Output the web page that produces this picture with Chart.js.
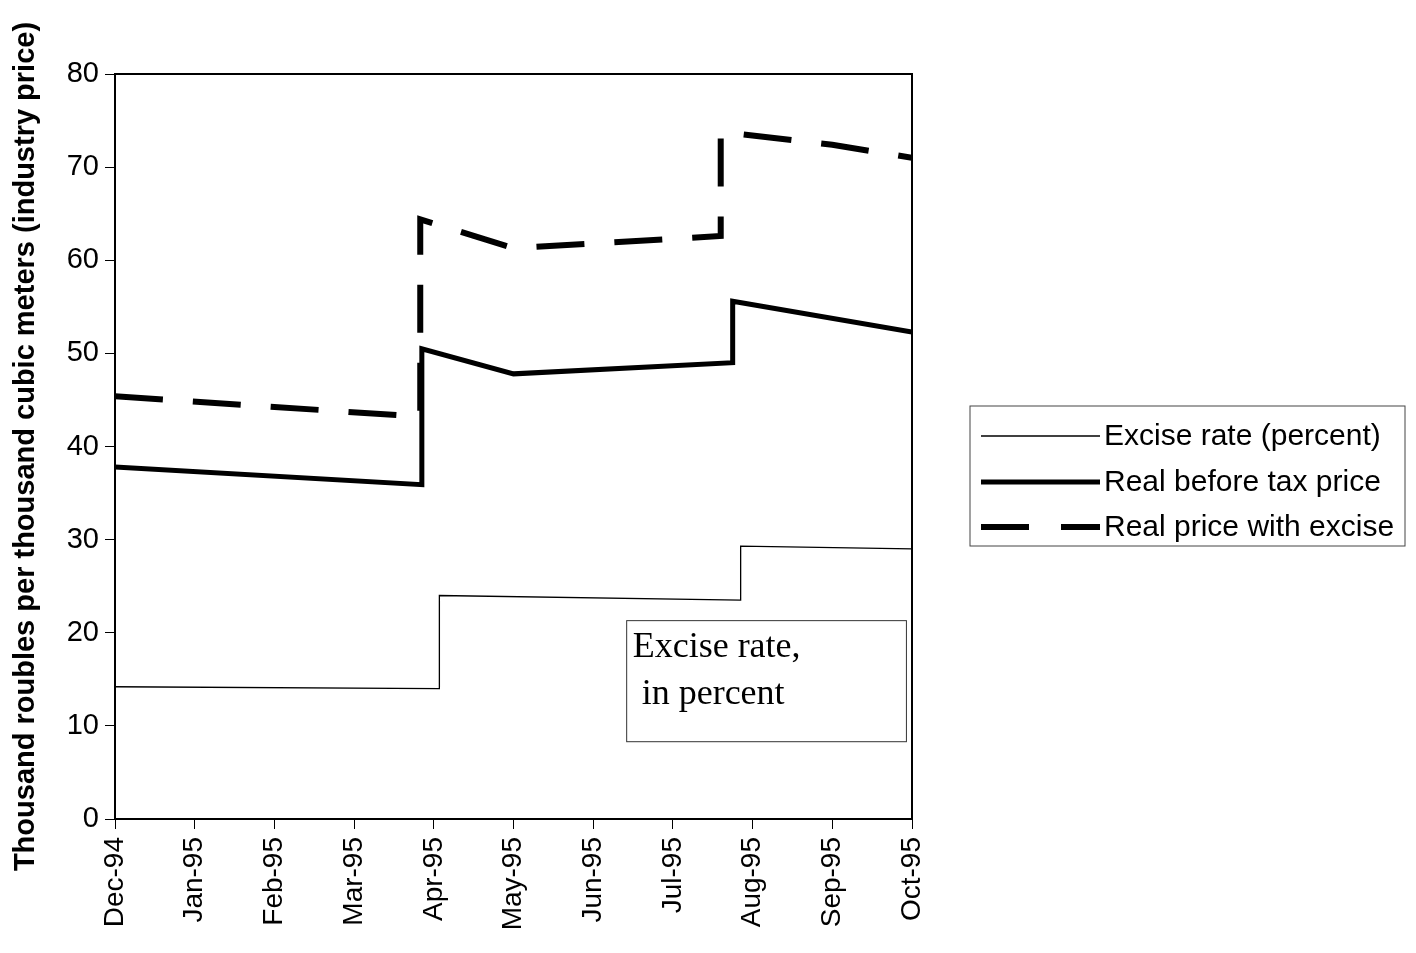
<!DOCTYPE html>
<html>
<head>
<meta charset="utf-8">
<script src="https://cdn.jsdelivr.net/npm/chart.js@4.4.1/dist/chart.umd.min.js"></script>
<style>
  html, body { margin: 0; padding: 0; background: #fff; }
  #wrap { width: 1416px; height: 953px; }
</style>
</head>
<body>
<div id="wrap"><canvas id="gasChart"></canvas></div>

<script>
    // month labels for the x axis (index 0 = Dec-94)
    var months = ['Dec-94', 'Jan-95', 'Feb-95', 'Mar-95', 'Apr-95', 'May-95',
                  'Jun-95', 'Jul-95', 'Aug-95', 'Sep-95', 'Oct-95'];
    var yTicks = [0, 10, 20, 30, 40, 50, 60, 70, 80];

    // x values are month positions (steps fall between months)
    var exciseX = [0, 4.07, 4.07, 7.85, 7.85, 10];
    var exciseY = [14.2, 14.0, 24.0, 23.5, 29.3, 29.0];

    var beforeTaxX = [0, 3.85, 3.85, 5, 7.75, 7.75, 10];
    var beforeTaxY = [37.8, 35.9, 50.5, 47.8, 49.0, 55.6, 52.3];

    var withExciseX = [0, 3.83, 3.83, 5, 7.6, 7.6, 9, 10];
    var withExciseY = [45.4, 43.2, 64.4, 61.3, 62.6, 73.8, 72.4, 71.0];

    var seriesNames = ['Excise rate (percent)', 'Real before tax price', 'Real price with excise'];
    var noteLines = ['Excise rate,', ' in percent'];

    function pairs(xs, ys) {
        return xs.map(function (x, i) { return { x: x, y: ys[i] }; });
    }

    // frame round the plot, legend box and the text note
    var extras = {
        id: 'extras',
        afterDraw: function (chart) {
            var ctx = chart.ctx;
            var a = chart.chartArea;
            var xs = chart.scales.x, ys = chart.scales.y;
            ctx.save();
            ctx.strokeStyle = '#000';
            ctx.lineWidth = 2;
            ctx.beginPath();
            ctx.moveTo(a.left, a.top);
            ctx.lineTo(a.right, a.top);
            ctx.lineTo(a.right, a.bottom);
            ctx.stroke();

            // note box
            var nx1 = xs.getPixelForValue(6.42), nx2 = xs.getPixelForValue(9.93);
            var ny1 = ys.getPixelForValue(21.3), ny2 = ys.getPixelForValue(8.3);
            ctx.lineWidth = 1;
            ctx.strokeStyle = '#333';
            ctx.strokeRect(nx1, ny1, nx2 - nx1, ny2 - ny1);
            ctx.fillStyle = '#000';
            ctx.font = '36px "Liberation Serif", "DejaVu Serif", serif';
            ctx.textBaseline = 'alphabetic';
            ctx.textAlign = 'left';
            ctx.fillText(noteLines[0], nx1 + 6, ny1 + 36);
            ctx.fillText(noteLines[1], nx1 + 6, ny1 + 83);

            // legend
            var lx = 970, ly = 406, lw = 435, lh = 140;
            ctx.strokeStyle = '#444';
            ctx.lineWidth = 1;
            ctx.strokeRect(lx, ly, lw, lh);
            var rows = [436, 482, 527];
            chart.data.datasets.forEach(function (ds, i) {
                ctx.strokeStyle = '#000';
                ctx.lineWidth = ds.borderWidth;
                ctx.setLineDash(i === 2 ? [48, 32] : []);
                ctx.beginPath();
                ctx.moveTo(981, rows[i]);
                ctx.lineTo(1100, rows[i]);
                ctx.stroke();
                ctx.setLineDash([]);
                ctx.font = '30px "Liberation Sans", Arial, sans-serif';
                ctx.textBaseline = 'middle';
                ctx.fillText(ds.label, 1104, rows[i] + 1);
            });
            ctx.restore();
        }
    };

    var ctxL = document.getElementById('gasChart').getContext('2d');
    var gasChart = new Chart(ctxL, {
        type: 'line',
        data: {
            datasets: [
                {
                    label: seriesNames[0],
                    data: pairs(exciseX, exciseY),
                    borderColor: '#000',
                    borderWidth: 1.3,
                    pointRadius: 0,
                    tension: 0
                },
                {
                    label: seriesNames[1],
                    data: pairs(beforeTaxX, beforeTaxY),
                    borderColor: '#000',
                    borderWidth: 5,
                    pointRadius: 0,
                    tension: 0
                },
                {
                    label: seriesNames[2],
                    data: pairs(withExciseX, withExciseY),
                    borderColor: '#000',
                    borderWidth: 6,
                    borderDash: [48, 30],
                    pointRadius: 0,
                    tension: 0
                }
            ]
        },
        options: {
            responsive: true,
            maintainAspectRatio: false,
            animation: false,
            layout: { padding: { left: 9, right: 504, top: 74, bottom: 0 } },
            plugins: {
                legend: { display: false },
                tooltip: { enabled: false }
            },
            scales: {
                x: {
                    type: 'linear',
                    min: 0,
                    max: 10,
                    afterBuildTicks: function (s) {
                        s.ticks = months.map(function (m, i) { return { value: i }; });
                    },
                    afterFit: function (s) { s.height = 953 - 819; },
                    ticks: {
                        color: '#000',
                        autoSkip: false,
                        minRotation: 90,
                        maxRotation: 90,
                        padding: 8,
                        font: { family: '"Liberation Sans", Arial, sans-serif', size: 28 },
                        callback: function (v) { return months[v]; }
                    },
                    grid: { drawOnChartArea: false, color: '#000', tickLength: 10 },
                    border: { color: '#000', width: 2 }
                },
                y: {
                    min: 0,
                    max: 80,
                    afterBuildTicks: function (s) {
                        s.ticks = yTicks.map(function (v) { return { value: v }; });
                    },
                    afterFit: function (s) { s.width = 106; },
                    ticks: {
                        color: '#000',
                        padding: 6,
                        font: { family: '"Liberation Sans", Arial, sans-serif', size: 29 }
                    },
                    grid: { drawOnChartArea: false, color: '#000', tickLength: 10 },
                    border: { color: '#000', width: 2 },
                    title: {
                        display: true,
                        text: 'Thousand roubles per thousand cubic meters (industry price)',
                        color: '#000',
                        padding: { top: 0, bottom: 0 },
                        font: { family: '"Liberation Sans", Arial, sans-serif', size: 29, weight: 'bold' }
                    }
                }
            }
        },
        plugins: [extras]
    });
</script>
</body>
</html>
